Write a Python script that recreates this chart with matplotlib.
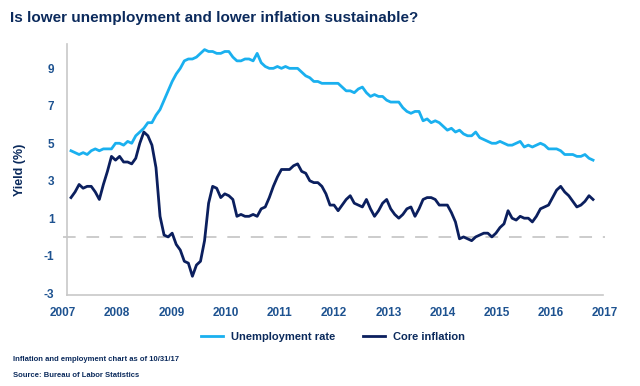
"""
Unemployment rate vs. inflation, monthly, Jan 2007 - Oct 2017.
"""
import numpy as np
import matplotlib.pyplot as plt

plt.rcParams["font.family"] = ["Liberation Sans", "DejaVu Sans"]
plt.rcParams["axes.unicode_minus"] = False

# Monthly values, Jan 2007 .. Oct 2017
unemployment = [
    4.6, 4.5, 4.4, 4.5, 4.4, 4.6, 4.7, 4.6, 4.7, 4.7, 4.7, 5.0,
    5.0, 4.9, 5.1, 5.0, 5.4, 5.6, 5.8, 6.1, 6.1, 6.5, 6.8, 7.3,
    7.8, 8.3, 8.7, 9.0, 9.4, 9.5, 9.5, 9.6, 9.8, 10.0, 9.9, 9.9,
    9.8, 9.8, 9.9, 9.9, 9.6, 9.4, 9.4, 9.5, 9.5, 9.4, 9.8, 9.3,
    9.1, 9.0, 9.0, 9.1, 9.0, 9.1, 9.0, 9.0, 9.0, 8.8, 8.6, 8.5,
    8.3, 8.3, 8.2, 8.2, 8.2, 8.2, 8.2, 8.0, 7.8, 7.8, 7.7, 7.9,
    8.0, 7.7, 7.5, 7.6, 7.5, 7.5, 7.3, 7.2, 7.2, 7.2, 6.9, 6.7,
    6.6, 6.7, 6.7, 6.2, 6.3, 6.1, 6.2, 6.1, 5.9, 5.7, 5.8, 5.6,
    5.7, 5.5, 5.4, 5.4, 5.6, 5.3, 5.2, 5.1, 5.0, 5.0, 5.1, 5.0,
    4.9, 4.9, 5.0, 5.1, 4.8, 4.9, 4.8, 4.9, 5.0, 4.9, 4.7, 4.7,
    4.7, 4.6, 4.4, 4.4, 4.4, 4.3, 4.3, 4.4, 4.2, 4.1,
]
inflation = [
    2.1, 2.4, 2.8, 2.6, 2.7, 2.7, 2.4, 2.0, 2.8, 3.5, 4.3, 4.1,
    4.3, 4.0, 4.0, 3.9, 4.2, 5.0, 5.6, 5.4, 4.9, 3.7, 1.1, 0.1,
    0.0, 0.2, -0.4, -0.7, -1.3, -1.4, -2.1, -1.5, -1.3, -0.2, 1.8, 2.7,
    2.6, 2.1, 2.3, 2.2, 2.0, 1.1, 1.2, 1.1, 1.1, 1.2, 1.1, 1.5,
    1.6, 2.1, 2.7, 3.2, 3.6, 3.6, 3.6, 3.8, 3.9, 3.5, 3.4, 3.0,
    2.9, 2.9, 2.7, 2.3, 1.7, 1.7, 1.4, 1.7, 2.0, 2.2, 1.8, 1.7,
    1.6, 2.0, 1.5, 1.1, 1.4, 1.8, 2.0, 1.5, 1.2, 1.0, 1.2, 1.5,
    1.6, 1.1, 1.5, 2.0, 2.1, 2.1, 2.0, 1.7, 1.7, 1.7, 1.3, 0.8,
    -0.1, 0.0, -0.1, -0.2, 0.0, 0.1, 0.2, 0.2, 0.0, 0.2, 0.5, 0.7,
    1.4, 1.0, 0.9, 1.1, 1.0, 1.0, 0.8, 1.1, 1.5, 1.6, 1.7, 2.1,
    2.5, 2.7, 2.4, 2.2, 1.9, 1.6, 1.7, 1.9, 2.2, 2.0,
]
year_labels = [str(y) for y in range(2007, 2018)]
y_ticks = [-3, -1, 1, 3, 5, 7, 9]

NAVY = "#0b2a5c"
TICK = "#1d5290"
LIGHT = "#1ab0ef"
DARK = "#0b1f5e"

months = np.arange(len(unemployment))

fig = plt.figure(figsize=(6.4, 3.86), dpi=100)
ax = fig.add_axes([0.0983, 0.2358, 0.8473, 0.6502])

ax.axhline(0, color="#c8c8c8", lw=1.3, dashes=(7, 6), zorder=1)
ax.plot(months, unemployment, color=LIGHT, lw=2.0, label="Unemployment rate", zorder=3)
ax.plot(months, inflation, color=DARK, lw=2.0, label="Core inflation", zorder=3)

ax.set_xlim(-2, 132)
ax.set_ylim(-3.1, 10.3)
ax.set_xticks(np.linspace(-2, 132, len(year_labels)))
ax.set_xticklabels(year_labels)
ax.set_yticks(y_ticks)

for side in ["top", "right"]:
    ax.spines[side].set_visible(False)
ax.spines["left"].set_position(("data", -1))
ax.spines["bottom"].set_bounds(-1, 131.5)
for side in ["left", "bottom"]:
    ax.spines[side].set_color("#c8c8c8")
    ax.spines[side].set_linewidth(1.2)
ax.tick_params(axis="both", length=0, labelcolor=TICK, labelsize=8.5)
ax.tick_params(axis="x", pad=9)
ax.tick_params(axis="y", pad=9)
for lab in ax.get_xticklabels() + ax.get_yticklabels():
    lab.set_fontweight("bold")

ax.set_ylabel("Yield (%)", color=NAVY, fontsize=9, fontweight="bold", labelpad=13)

fig.text(0.016, 0.953, "Is lower unemployment and lower inflation sustainable?",
         color=NAVY, fontsize=11, fontweight="bold", va="center")

leg = fig.legend(loc="center", bbox_to_anchor=(0.52, 0.127), ncol=2, frameon=False,
                 handlelength=2.0, columnspacing=2.5, handletextpad=0.7,
                 prop={"weight": "bold", "size": 8})
for t in leg.get_texts():
    t.set_color(NAVY)

fig.text(0.02, 0.068, "Inflation and employment chart as of 10/31/17",
         color=NAVY, fontsize=5.5, fontweight="bold", va="center")
fig.text(0.02, 0.026, "Source: Bureau of Labor Statistics",
         color=NAVY, fontsize=5.5, fontweight="bold", va="center")

fig.savefig("out.png", dpi=100)
